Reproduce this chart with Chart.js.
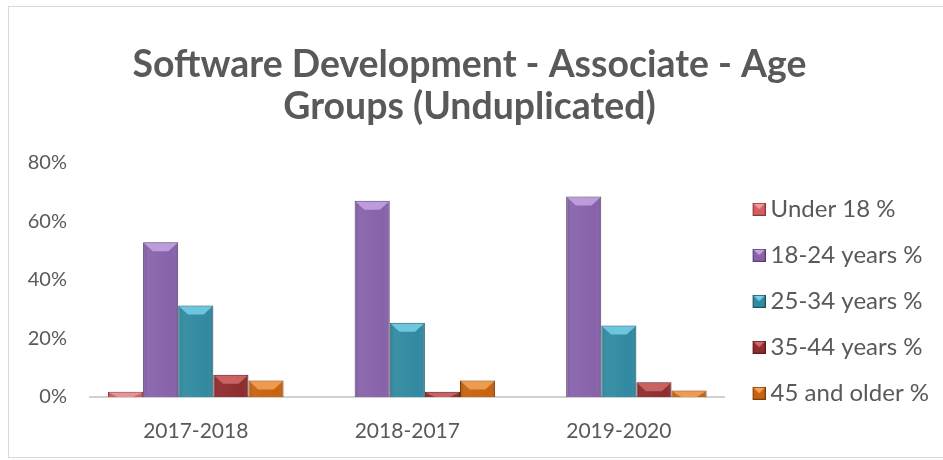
<!DOCTYPE html>
<html>
<head>
<meta charset="utf-8">
<script src="https://cdn.jsdelivr.net/npm/chart.js@4.4.1/dist/chart.umd.min.js"></script>
<style>
  html, body { margin: 0; padding: 0; background: #ffffff; }
  #wrap { position: relative; width: 943px; height: 460px; }
  #frame { position: absolute; left: 8px; top: 6px; width: 960px; height: 452px; border: 1px solid #d9d9d9; box-sizing: border-box; pointer-events: none; }
  canvas { position: absolute; left: 0; top: 0; }
</style>
</head>
<body>
<div id="wrap">
  <canvas id="c" width="943" height="460"></canvas>
  <div id="frame"></div>
</div>
<script>
const titleLines = ['Software Development - Associate - Age', 'Groups (Unduplicated)'];
const categories = ['2017-2018', '2018-2017', '2019-2020'];
const seriesNames = ['Under 18 %', '18-24 years %', '25-34 years %', '35-44 years %', '45 and older %'];
const under18 = [1.8, 0, 0];
const age18to24 = [52.8, 67.0, 68.4];
const age25to34 = [31.2, 25.3, 24.4];
const age35to44 = [7.6, 1.8, 5.0];
const age45plus = [5.6, 5.6, 2.2];
const yTicks = [0, 20, 40, 60, 80];

const fills = ['#d45d60', '#8862aa', '#318aa1', '#8f2c2d', '#c8620f'];
const tops = ['#f09a9c', '#c4a6e3', '#78d0e8', '#d46a6b', '#f5a45a'];
const borders = ['#8a3a3c', '#55406b', '#1f5664', '#5a1b1c', '#7d3d09'];
const seriesValues = [under18, age18to24, age25to34, age35to44, age45plus];

// legend marker: a beveled square at the right side of a wider transparent swatch
const MARK_W = 12, SWATCH_W = 26, SQ = 13;
function makeSwatch(i) {
  const cv = document.createElement('canvas');
  cv.width = SWATCH_W; cv.height = SQ;
  const c = cv.getContext('2d');
  const x0 = SWATCH_W - SQ;
  c.fillStyle = fills[i];
  c.fillRect(x0, 0, SQ, SQ);
  c.beginPath();
  c.moveTo(x0 + 1, 1); c.lineTo(x0 + SQ - 1, 1);
  c.lineTo(x0 + SQ / 2, SQ / 2); c.closePath();
  c.fillStyle = tops[i];
  c.fill();
  c.strokeStyle = borders[i];
  c.lineWidth = 1;
  c.strokeRect(x0 + 0.5, 0.5, SQ - 1, SQ - 1);
  return cv;
}

const bevelPlugin = {
  id: 'bevel',
  afterDatasetsDraw(chart) {
    const ctx = chart.ctx;
    chart.data.datasets.forEach((ds, di) => {
      const meta = chart.getDatasetMeta(di);
      if (meta.hidden) return;
      meta.data.forEach((bar) => {
        const h = bar.base - bar.y;
        if (h <= 0.5) return;
        const w = bar.width;
        const l = bar.x - w / 2, r = bar.x + w / 2;
        const cap = Math.min(9, h);
        const inset = Math.min(9, w / 4);
        ctx.save();
        const g = ctx.createLinearGradient(l, 0, r, 0);
        g.addColorStop(0, 'rgba(0,0,0,0.10)');
        g.addColorStop(0.15, 'rgba(255,255,255,0.05)');
        g.addColorStop(0.85, 'rgba(255,255,255,0.0)');
        g.addColorStop(1, 'rgba(0,0,0,0.15)');
        ctx.fillStyle = g;
        ctx.fillRect(l + 1, bar.y + 1, w - 2, h - 1);
        ctx.beginPath();
        ctx.moveTo(l + 1, bar.y + 1);
        ctx.lineTo(r - 1, bar.y + 1);
        ctx.lineTo(r - 1 - inset, bar.y + cap);
        ctx.lineTo(l + 1 + inset, bar.y + cap);
        ctx.closePath();
        ctx.fillStyle = tops[di];
        ctx.globalAlpha = 0.85;
        ctx.fill();
        ctx.restore();
      });
    });
  }
};

new Chart(document.getElementById('c'), {
  type: 'bar',
  data: {
    labels: categories,
    datasets: seriesNames.map((name, i) => ({
      label: name,
      data: seriesValues[i],
      backgroundColor: fills[i],
      borderColor: borders[i],
      borderWidth: 1,
      borderSkipped: 'bottom',
      categoryPercentage: 0.83,
      barPercentage: 1.0
    }))
  },
  options: {
    responsive: false,
    animation: false,
    devicePixelRatio: 1,
    layout: { padding: { left: 0, right: 4, top: 44, bottom: 14 } },
    plugins: {
      title: {
        display: true,
        text: titleLines,
        color: '#595959',
        font: { family: 'Lato', size: 37.4, weight: 'bold', lineHeight: 1.13 },
        padding: { top: 0, bottom: 34 }
      },
      legend: {
        position: 'right',
        align: 'center',
        title: { display: true, text: '', padding: { top: 98, bottom: 0 } },
        labels: {
          color: '#595959',
          font: { family: 'Lato', size: 24 },
          usePointStyle: true,
          pointStyleWidth: MARK_W,
          boxWidth: MARK_W,
          boxHeight: SQ,
          padding: 22,
          generateLabels(chart) {
            return chart.data.datasets.map((ds, i) => ({
              text: ds.label,
              fillStyle: fills[i],
              strokeStyle: borders[i],
              lineWidth: 1,
              pointStyle: makeSwatch(i),
              fontColor: '#595959',
              datasetIndex: i,
              hidden: false
            }));
          }
        }
      },
      tooltip: { enabled: false }
    },
    scales: {
      x: {
        afterFit(scale) { scale.height = 49; },
        grid: { display: false, drawTicks: false },
        border: { display: true, color: '#d0d0d0', width: 2 },
        ticks: { color: '#595959', font: { family: 'Lato', size: 21 }, padding: 22 }
      },
      y: {
        min: 0,
        max: 80,
        afterBuildTicks(scale) { scale.ticks = yTicks.map(v => ({ value: v })); },
        afterFit(scale) { scale.width = 90; },
        grid: { display: false, drawTicks: false },
        border: { display: false },
        ticks: {
          color: '#595959',
          font: { family: 'Lato', size: 20 },
          padding: 23,
          callback: (v) => v + '%'
        }
      }
    }
  },
  plugins: [bevelPlugin]
});
</script>
</body>
</html>
